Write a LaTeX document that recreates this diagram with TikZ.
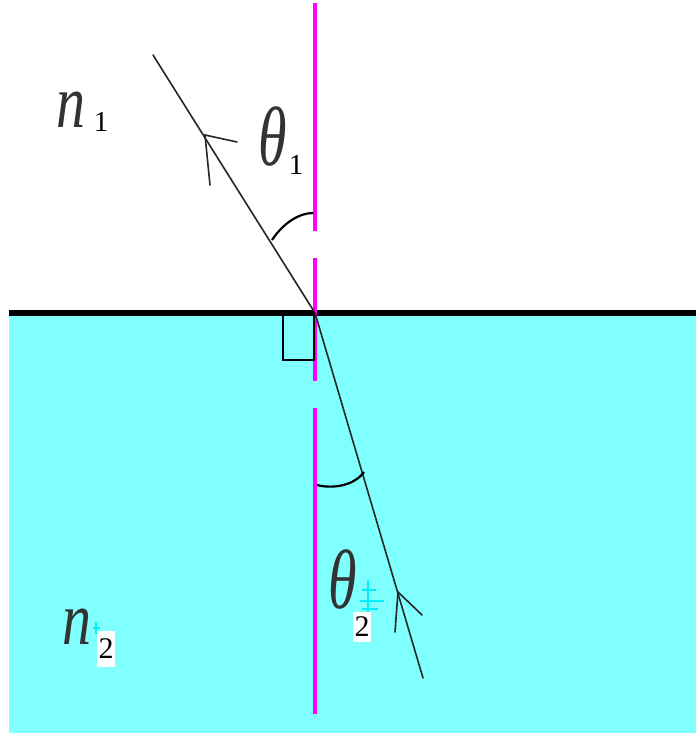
\documentclass[tikz,border=0pt]{standalone}
\usepackage{fontspec}
\setmainfont{Liberation Serif}
\definecolor{aqua}{HTML}{80FFFF}
\definecolor{aquadeep}{HTML}{00F0FF}
\definecolor{mag}{HTML}{FF00FF}
\begin{document}
\begin{tikzpicture}[x=1pt,y=-1pt,
  ray/.style={line width=1.6pt, black!85, line cap=round},
  normalline/.style={line width=4.5pt, mag},
  surface/.style={line width=6pt, black},
  anglemark/.style={line width=2.2pt, black},
  bigsym/.style={inner sep=0pt, text=black!80},
  subnum/.style={inner sep=0pt, font=\fontsize{29}{29}\selectfont},
  subbox/.style={inner sep=0pt, fill=white, minimum width=18pt, minimum height=36pt, font=\fontsize{30}{30}\selectfont},
  ghost/.style={line width=2.5pt, aquadeep}
]
\useasboundingbox (0,0) rectangle (696,736);
\fill[white] (0,0) rectangle (696,736);
\fill[aqua] (9,313) rectangle (696,733);

% normal (dashed magenta line)
\coordinate (N1a) at (315,3);   \coordinate (N1b) at (315,231);
\coordinate (N2a) at (315,258); \coordinate (N2b) at (315,381);
\coordinate (N3a) at (315,408); \coordinate (N3b) at (315,714);

% surface
\coordinate (SL) at (9,313); \coordinate (SR) at (696,313);
\draw[surface] (SL) -- (SR);
\draw[normalline] (N1a) -- (N1b);
\draw[normalline] (N2a) -- (N2b);
\draw[normalline] (N3a) -- (N3b);

% right angle mark
\coordinate (R1) at (283,313); \coordinate (R2) at (314,360);
\draw[line width=1.5pt] (R1) rectangle (R2);

% rays
\coordinate (O) at (315,313);
\coordinate (A) at (153,55);
\coordinate (B) at (423,678);
\draw[ray] (O) -- (A);
\draw[ray] (B) -- (O);

% arrow heads (open, hand drawn)
\coordinate (P1) at (205,135); \coordinate (P1a) at (237,142); \coordinate (P1b) at (210,185);
\draw[ray] (P1a) -- (P1) -- (P1b);
\coordinate (P2) at (398,592); \coordinate (P2a) at (395,632); \coordinate (P2b) at (422,615);
\draw[ray] (P2a) -- (P2) -- (P2b);

% angle arcs
\coordinate (T1a) at (272,240); \coordinate (T1b) at (313,213);
\draw[anglemark] (T1a) .. controls (284,222) and (300,213) .. (T1b);
\coordinate (T2a) at (317,485); \coordinate (T2b) at (364,472);
\draw[anglemark] (T2a) .. controls (332,489) and (354,486) .. (T2b);

% cyan smudges beside the lower subscripts
\draw[ghost] (368,580) -- (368,612) (362,590) -- (376,590) (360,601) -- (384,601) (362,609) -- (378,609);
\draw[ghost] (96,622) -- (96,634) (93,628) -- (100,628);

% labels
\node[bigsym] (n1) at (71,110) {\fontsize{58}{58}\selectfont\scalebox{1}[1.3]{\itshape n}};
\node[subnum] (n1s) at (101,122) {1};
\node[bigsym] (th1) at (273,137) {\fontsize{58}{58}\selectfont\scalebox{1}[1.45]{\itshape θ}};
\node[subnum] (th1s) at (296,165) {1};

\node[bigsym] (th2) at (343,580) {\fontsize{58}{58}\selectfont\scalebox{1}[1.45]{\itshape θ}};
\node[subbox, minimum height=30pt] (th2s) at (362,627) {2};

\node[bigsym] (n2) at (77,627) {\fontsize{58}{58}\selectfont\scalebox{1}[1.3]{\itshape n}};
\node[subbox] (n2s) at (106,649) {2};
\end{tikzpicture}
\end{document}
